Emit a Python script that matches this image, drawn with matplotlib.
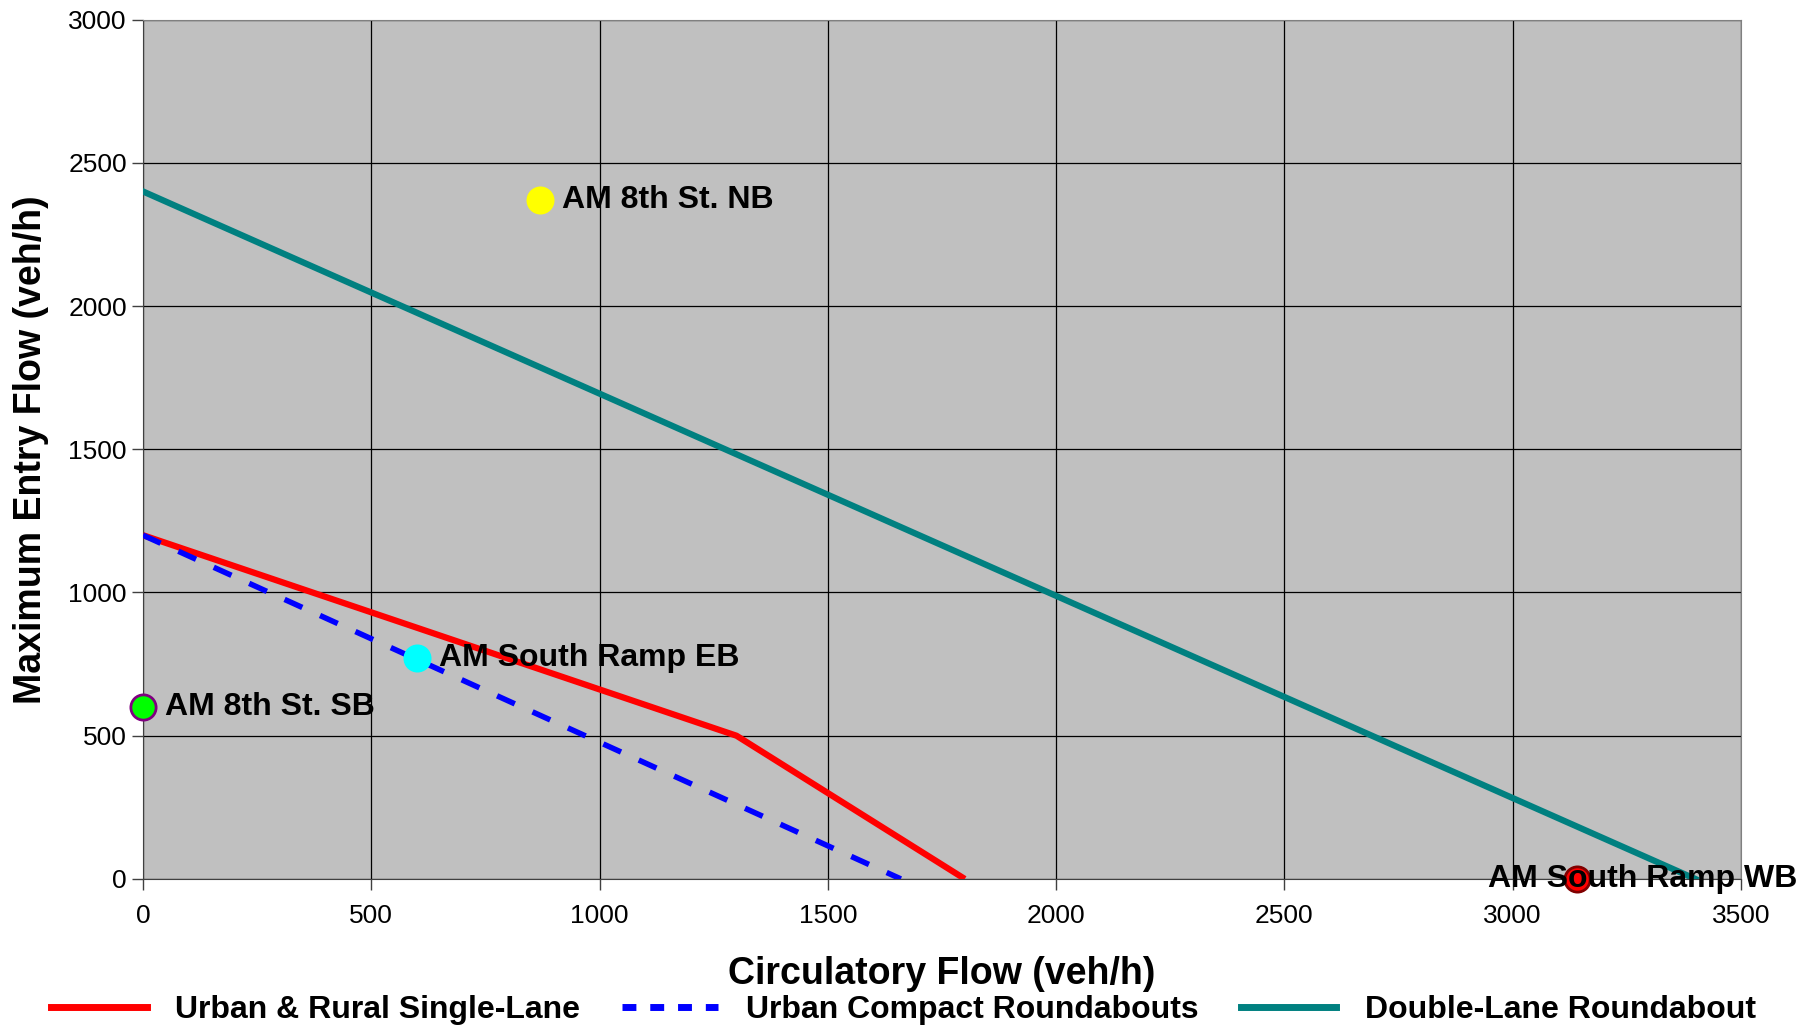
import matplotlib.pyplot as plt
from matplotlib.lines import Line2D

plt.rcParams['font.family'] = ['Liberation Sans', 'DejaVu Sans']

# curves (circulatory flow, max entry flow)
single_x = [0, 1300, 1800]
single_y = [1200, 500, 0]
compact_x = [0, 1660]
compact_y = [1200, 0]
double_x = [0, 3400]
double_y = [2400, 0]

# observed approaches
pt_names = ['AM 8th St. NB', 'AM South Ramp EB', 'AM 8th St. SB', 'AM South Ramp WB']
pt_x = [870, 600, 0, 3140]
pt_y = [2370, 770, 600, 0]
pt_face = ['#FFFF00', '#00FFFF', '#00FF00', '#FF0000']
pt_edge = ['#FFFF00', '#00FFFF', '#800080', '#800000']
pt_offset = [(16, 0), (16, 0), (16, 0), (-64, 0)]

fig = plt.figure(figsize=(18.16, 10.28), dpi=100)
ax = fig.add_axes([0.0787, 0.145, 0.88, 0.836])
ax.set_facecolor('#C0C0C0')

ax.plot(single_x, single_y, color='#FF0000', lw=4.5, solid_capstyle='butt', zorder=3)
ax.plot(compact_x, compact_y, color='#0000FF', lw=4, dashes=(3.5, 3.5), zorder=3)
ax.plot(double_x, double_y, color='#008080', lw=4.5, zorder=3)

for name, x, y, fc, ec, off in zip(pt_names, pt_x, pt_y, pt_face, pt_edge, pt_offset):
    ax.scatter([x], [y], s=330, color=fc, edgecolors=ec, linewidths=2, zorder=5, clip_on=False)
    ax.annotate(name, (x, y), xytext=off, textcoords='offset points', va='center', ha='left',
                fontsize=23, fontweight='bold', zorder=6, annotation_clip=False)

ax.set_xlim(0, 3500)
ax.set_ylim(0, 3000)
ax.set_xticks(range(0, 3501, 500))
ax.set_yticks(range(0, 3001, 500))
ax.grid(True, color='black', lw=0.9)
ax.set_axisbelow(True)
ax.tick_params(axis='both', labelsize=19, length=8, width=1, color='#404040')
ax.tick_params(axis='x', pad=10)
for s in ['top', 'right']:
    ax.spines[s].set_color('#808080')
ax.spines['bottom'].set_color('#404040')
ax.spines['left'].set_color('#404040')

ax.set_xlabel('Circulatory Flow (veh/h)', fontsize=27, fontweight='bold', labelpad=20)
ax.set_ylabel('Maximum Entry Flow (veh/h)', fontsize=27, fontweight='bold', labelpad=14)

handles = [
    Line2D([], [], color='#FF0000', lw=5),
    Line2D([], [], color='#0000FF', lw=5, dashes=(2, 2)),
    Line2D([], [], color='#008080', lw=5),
]
labels = ['Urban & Rural Single-Lane', 'Urban Compact Roundabouts', 'Double-Lane Roundabout']
fig.legend(handles, labels, loc='lower center', bbox_to_anchor=(0.4975, -0.025), ncol=3,
           frameon=False, prop={'size': 23, 'weight': 'bold'}, handlelength=3.0,
           columnspacing=1.3, handletextpad=0.9)

fig.savefig('out.png', dpi=100)
